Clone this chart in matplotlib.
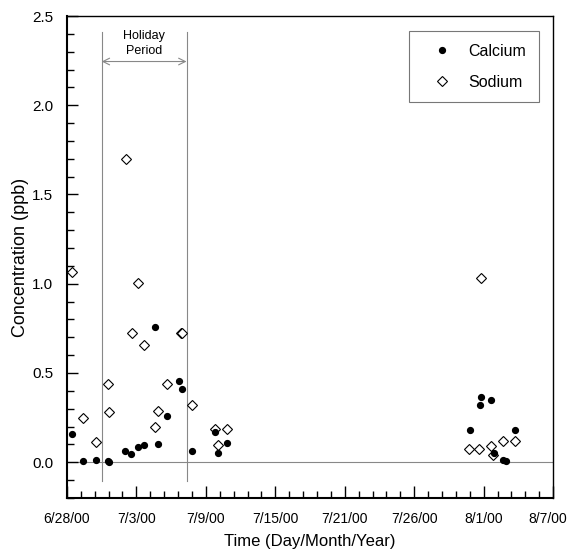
import numpy as np
import matplotlib.pyplot as plt
import matplotlib.transforms as mtransforms
from matplotlib.ticker import FixedLocator, MultipleLocator

plt.rcParams['font.family'] = ['Liberation Sans', 'DejaVu Sans']

# days after 6/28/00
ca_day = [0.38, 1.35, 2.42, 3.35, 3.49, 4.81, 5.28, 5.83, 6.30, 7.28, 7.51, 8.27,
          9.26, 9.43, 10.31, 12.20, 12.43, 13.20,
          33.15, 33.95, 34.06, 34.89, 35.13, 35.90, 36.12, 36.87]
ca_val = [0.157, 0.007, 0.013, 0.007, 0.0, 0.060, 0.047, 0.084, 0.099, 0.756, 0.100, 0.260,
          0.453, 0.409, 0.063, 0.168, 0.054, 0.110,
          0.183, 0.323, 0.366, 0.347, 0.050, 0.015, 0.007, 0.181]

na_day = [0.41, 1.32, 2.39, 3.35, 3.44, 4.87, 5.33, 5.83, 6.32, 7.23, 7.48, 8.25,
          9.35, 9.43, 10.31, 12.20, 12.43, 13.17,
          33.10, 33.92, 34.06, 34.86, 35.08, 35.85, 36.84]
na_val = [1.066, 0.245, 0.114, 0.437, 0.282, 1.697, 0.722, 1.004, 0.659, 0.200, 0.286, 0.440,
          0.722, 0.722, 0.321, 0.185, 0.099, 0.185,
          0.073, 0.073, 1.034, 0.091, 0.039, 0.118, 0.121]

tick_labels = ['6/28/00', '7/3/00', '7/9/00', '7/15/00', '7/21/00', '7/26/00', '8/1/00', '8/7/00']
holiday = [2.86, 9.84]

fig = plt.figure(figsize=(5.72, 5.52), dpi=100)
ax = fig.add_axes([0.117, 0.098, 0.850, 0.873])

ax.axhline(0, color='#888888', lw=0.8, zorder=1)
for h in holiday:
    ax.plot([h, h], [-0.105, 2.41], color='#888888', lw=0.8, zorder=1)
ax.annotate('', xy=(holiday[0], 2.245), xytext=(holiday[1], 2.245),
            arrowprops=dict(arrowstyle='<->', color='#888888', lw=0.8,
                            shrinkA=0, shrinkB=0, mutation_scale=12))
ax.text(sum(holiday) / 2, 2.345, 'Holiday\nPeriod', ha='center', va='center',
        fontsize=9, linespacing=1.4)

ax.plot(ca_day, ca_val, 'o', color='black', markersize=4.2, label='Calcium', zorder=3)
ax.plot(na_day, na_val, 'D', mfc='white', mec='black', mew=0.8, markersize=5,
        label='Sodium', zorder=2)

ax.set_xlim(0, 40)
ax.set_ylim(-0.2, 2.5)
xt = np.linspace(0, 40, 8)
ax.xaxis.set_major_locator(FixedLocator(xt))
ax.set_xticklabels(tick_labels)
ax.xaxis.set_minor_locator(MultipleLocator(40 / 35))
ax.yaxis.set_major_locator(MultipleLocator(0.5))
ax.yaxis.set_minor_locator(MultipleLocator(0.1))
ax.yaxis.set_major_formatter(plt.FormatStrFormatter('%.1f'))

ax.tick_params(which='both', direction='in', top=False, right=False)
ax.tick_params(axis='y', which='major', length=8, width=1, pad=10, labelsize=11)
ax.tick_params(axis='x', which='major', length=9, width=1, pad=10, labelsize=10)
ax.tick_params(which='minor', length=5, width=1)

# last label sits a little left of its tick in the original
last = ax.get_xticklabels()[-1]
last.set_transform(last.get_transform() + mtransforms.ScaledTranslation(-5 / 100, 0, fig.dpi_scale_trans))

ax.spines['left'].set_linewidth(1.5)
ax.spines['bottom'].set_linewidth(1.5)
ax.spines['top'].set_linewidth(1.0)
ax.spines['right'].set_linewidth(1.0)

ax.set_ylabel('Concentration (ppb)', fontsize=13, labelpad=2)
ax.set_xlabel('Time (Day/Month/Year)', fontsize=12, labelpad=6)

leg = ax.legend(loc='upper right', bbox_to_anchor=(0.971, 0.969), borderaxespad=0,
                fontsize=11.5, frameon=True, fancybox=False, edgecolor='#555555',
                borderpad=0.8, labelspacing=1.0, handletextpad=0.35, handlelength=2.6)
leg.get_frame().set_linewidth(0.8)

fig.savefig('out.png', dpi=100)
